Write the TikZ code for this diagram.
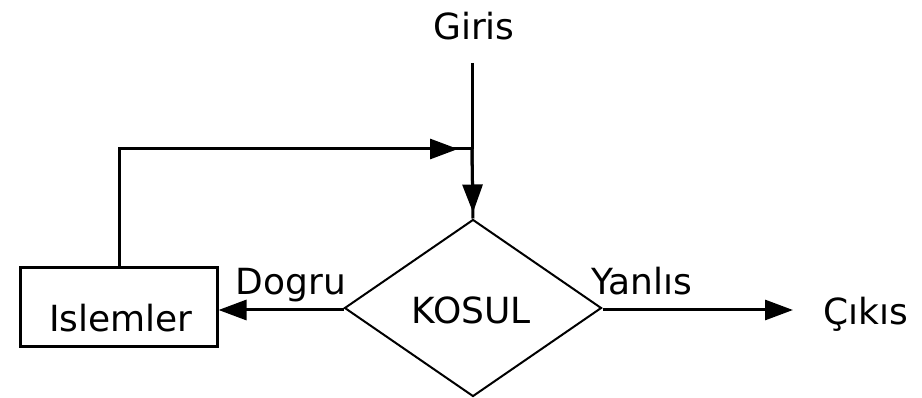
\documentclass[tikz,border=0pt]{standalone}
\usepackage{fontspec}
\setmainfont{DejaVu Sans}
\usetikzlibrary{shapes.geometric,arrows.meta}
\begin{document}
\begin{tikzpicture}[x=1pt,y=-1pt,
  lbl/.style={anchor=base,inner sep=0pt,font=\fontsize{36}{40}\selectfont},
  conn/.style={line width=3pt},
  tip/.style={-{Triangle[length=28pt,width=20pt]}},
  procbox/.style={draw,line width=3pt,minimum width=197pt,minimum height=79pt,inner sep=0pt},
  decision/.style={draw,diamond,line width=2pt,minimum width=257pt,minimum height=177pt,aspect=1.45,inner sep=0pt}]
\useasboundingbox (0,0) rectangle (922,398);
\node[lbl] (giris) at (474,40) {Giris};
\node[procbox] (islem) at (118.5,307) {};
\node[lbl] (islemtxt) at (121,332) {Islemler};
\node[decision] (kosul) at (473,308) {};
\node[lbl] (kosultxt) at (471,324) {KOSUL};
\node[lbl] (dogru) at (291,295) {Dogru};
\node[lbl] (yanlis) at (642,295) {Yanlıs};
\node[lbl] (cikis) at (866,325) {Çıkıs};
\coordinate (gtop) at (472,63);
\coordinate (join) at (472,149);
\coordinate (fbtip) at (458,149);
\coordinate (ytip) at (793,310);
% input line
\draw[conn] (gtop) -- (join);
\draw[conn] (join) -- (kosul.north);
\draw[conn,tip] (join) -- ([yshift=6pt]kosul.north);
% feedback loop
\draw[conn] (islem.north -| 119,0) |- (join);
\draw[conn,tip] ([xshift=-40pt]fbtip) -- (fbtip);
% true branch
\draw[conn,tip] (kosul.west |- 0,310) -- (islem.east |- 0,310);
% false branch
\draw[conn,tip] (kosul.east |- 0,310) -- (ytip);
\end{tikzpicture}
\end{document}
